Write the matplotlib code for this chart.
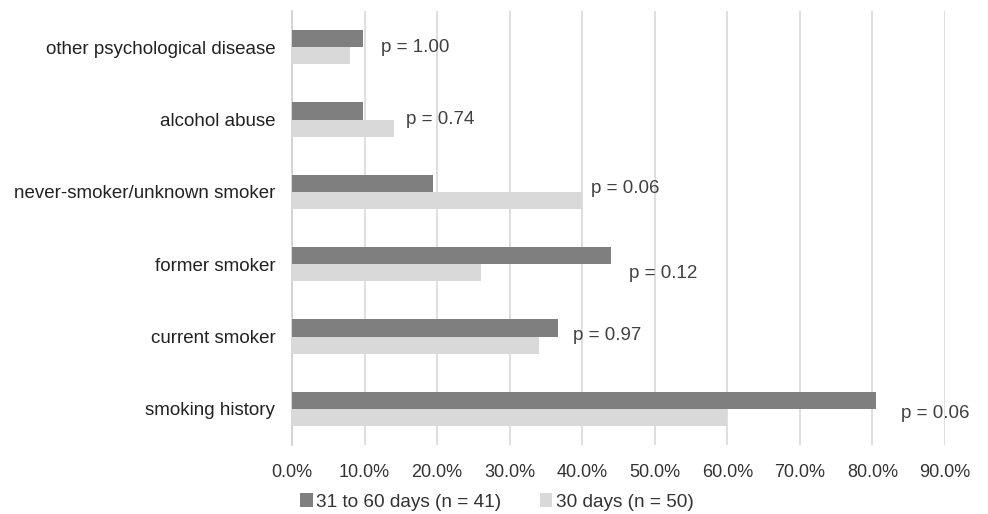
import matplotlib.pyplot as plt
import numpy as np
from matplotlib.ticker import FuncFormatter

plt.rcParams['font.family'] = ['Liberation Sans', 'DejaVu Sans']

# categories from bottom to top
categories = ['smoking history', 'current smoker', 'former smoker',
              'never-smoker/unknown smoker', 'alcohol abuse', 'other psychological disease']
late = [80.5, 36.6, 43.9, 19.5, 9.8, 9.8]      # 31 to 60 days (n = 41)
early = [60.0, 34.0, 26.0, 40.0, 14.0, 8.0]    # 30 days (n = 50)
p_labels = ['p = 0.06', 'p = 0.97', 'p = 0.12', 'p = 0.06', 'p = 0.74', 'p = 1.00']
# where each p label sits (x in %, y offset from category centre)
p_x = [84.0, 38.7, 46.5, 41.2, 15.7, 12.3]
p_dy = [-0.07, 0.02, -0.13, 0.04, 0.0, -0.01]

fig = plt.figure(figsize=(9.88, 5.14), dpi=100)
ax = fig.add_axes([0.2955, 0.1342, 0.661, 0.8444])

y = np.arange(len(categories))
h = 0.236
ax.barh(y + h / 2, late, height=h, color='#7f7f7f', label='31 to 60 days (n = 41)', zorder=3)
ax.barh(y - h / 2, early, height=h, color='#d9d9d9', label='30 days (n = 50)', zorder=3)

for i in range(len(categories)):
    ax.text(p_x[i], y[i] + p_dy[i], p_labels[i], fontsize=13.5, color='#404040',
            va='center', ha='left', zorder=4)

ax.set_xlim(0, 90)
ax.set_ylim(-0.5, len(categories) - 0.5)
ax.set_xticks(np.arange(0, 91, 10))
ax.xaxis.set_major_formatter(FuncFormatter(lambda v, pos: '%.1f%%' % v))
ax.set_yticks(y)
ax.set_yticklabels(categories)

ax.grid(axis='x', color='#d9d9d9', linewidth=1.2, zorder=0)
for s in ['top', 'right', 'bottom']:
    ax.spines[s].set_visible(False)
ax.spines['left'].set_color('#d0d0d0')
ax.spines['left'].set_linewidth(1.2)
ax.tick_params(axis='y', length=0, pad=12, labelsize=13.5, labelcolor='#222222')
ax.tick_params(axis='x', length=0, pad=14, labelsize=13, labelcolor='#333333')

fig.legend(loc='center', bbox_to_anchor=(0.503, 1 - 502 / 514), ncol=2, frameon=False,
           fontsize=13.7, handlelength=0.65, handleheight=0.7, handletextpad=0.2,
           columnspacing=2.0, labelcolor='#333333')

plt.savefig('out.png', dpi=100)
